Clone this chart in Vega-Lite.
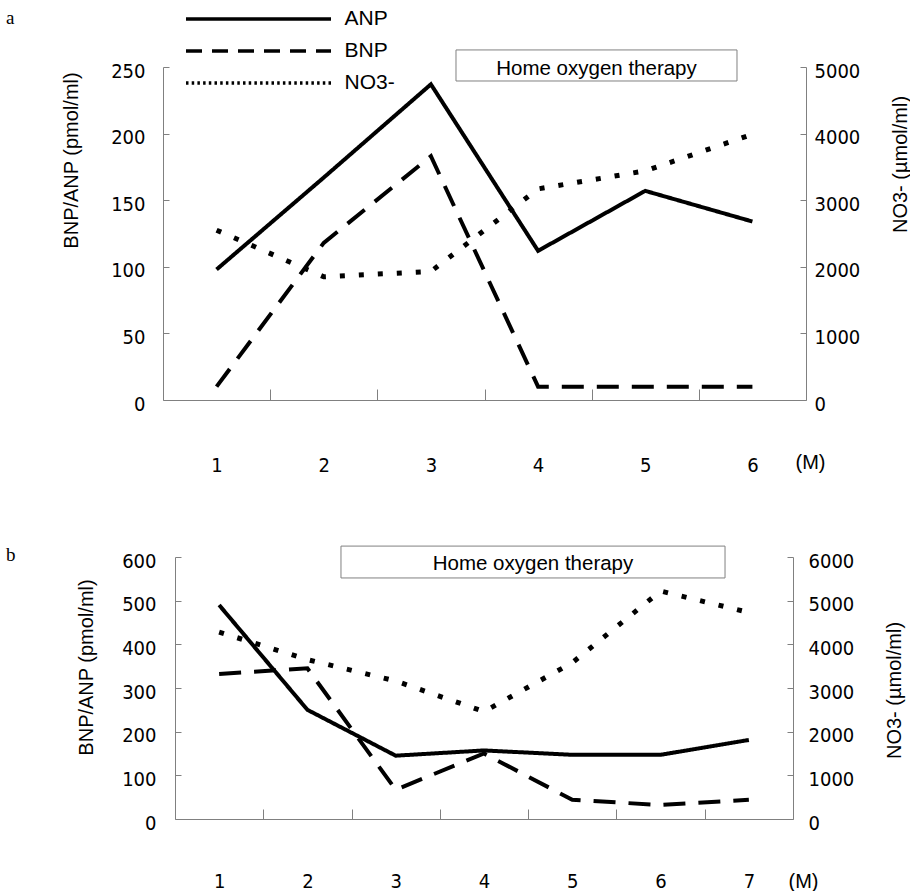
{
  "$schema": "https://vega.github.io/schema/vega-lite/v6.json",
  "background": "white",
  "padding": {"left": 6, "top": 7, "right": 0, "bottom": 0},
  "datasets": {
    "a": [
      {"month": 1, "series": "ANP", "value": 98},
      {"month": 2, "series": "ANP", "value": 167},
      {"month": 3, "series": "ANP", "value": 237},
      {"month": 4, "series": "ANP", "value": 112},
      {"month": 5, "series": "ANP", "value": 157},
      {"month": 6, "series": "ANP", "value": 134},
      {"month": 1, "series": "BNP", "value": 10},
      {"month": 2, "series": "BNP", "value": 118},
      {"month": 3, "series": "BNP", "value": 183},
      {"month": 4, "series": "BNP", "value": 10},
      {"month": 5, "series": "BNP", "value": 10},
      {"month": 6, "series": "BNP", "value": 10},
      {"month": 1, "series": "NO3-", "value": 2550},
      {"month": 2, "series": "NO3-", "value": 1850},
      {"month": 3, "series": "NO3-", "value": 1930},
      {"month": 4, "series": "NO3-", "value": 3170},
      {"month": 5, "series": "NO3-", "value": 3440},
      {"month": 6, "series": "NO3-", "value": 3990}
    ],
    "b": [
      {"month": 1, "series": "ANP", "value": 490},
      {"month": 2, "series": "ANP", "value": 250},
      {"month": 3, "series": "ANP", "value": 145},
      {"month": 4, "series": "ANP", "value": 157},
      {"month": 5, "series": "ANP", "value": 147},
      {"month": 6, "series": "ANP", "value": 147},
      {"month": 7, "series": "ANP", "value": 181},
      {"month": 1, "series": "BNP", "value": 332},
      {"month": 2, "series": "BNP", "value": 345},
      {"month": 3, "series": "BNP", "value": 67},
      {"month": 4, "series": "BNP", "value": 150},
      {"month": 5, "series": "BNP", "value": 44},
      {"month": 6, "series": "BNP", "value": 32},
      {"month": 7, "series": "BNP", "value": 44},
      {"month": 1, "series": "NO3-", "value": 4280},
      {"month": 2, "series": "NO3-", "value": 3650},
      {"month": 3, "series": "NO3-", "value": 3160},
      {"month": 4, "series": "NO3-", "value": 2460},
      {"month": 5, "series": "NO3-", "value": 3580},
      {"month": 6, "series": "NO3-", "value": 5220},
      {"month": 7, "series": "NO3-", "value": 4730}
    ],
    "notes": [{"label": "Home oxygen therapy"}]
  },
  "concat": [
    {
      "width": 643,
      "height": 333,
      "title": {"text": "a", "anchor": "start", "frame": "group", "dx": -157, "dy": 36, "offset": 0, "font": "Liberation Serif", "fontSize": 19, "fontWeight": "normal", "baseline": "alphabetic", "color": "black"},
      "resolve": {"scale": {"y": "independent", "strokeDash": "independent"}, "axis": {"x": "independent"}},
      "layer": [
        {
          "data": {"name": "a"},
          "transform": [{"filter": "datum.series !== 'NO3-'"}],
          "mark": {"type": "line", "color": "black", "strokeWidth": 4},
          "encoding": {
            "x": {"field": "month", "type": "quantitative", "scale": {"domain": [0.5, 6.5], "nice": false, "zero": false},
              "axis": {"orient": "bottom", "values": [1, 2, 3, 4, 5, 6], "format": "d", "ticks": false, "domainColor": "#808080", "labelPadding": 55, "labelFont": "DejaVu Sans Condensed", "labelFontSize": 20, "labelColor": "black", "labelFlush": false, "labelOverlap": false, "grid": false,
                "title": "(M)", "titleX": 647, "titleY": 62, "titleAlign": "center", "titleBaseline": "middle", "titleFont": "Liberation Sans", "titleFontSize": 20, "titleFontWeight": "normal", "titleColor": "black"}},
            "y": {"field": "value", "type": "quantitative", "scale": {"domain": [0, 250], "nice": false},
              "axis": {"orient": "left", "values": [0, 50, 100, 150, 200, 250], "ticks": false, "labelPadding": 18, "domainColor": "#808080", "labelFont": "DejaVu Sans Condensed", "labelFontSize": 20, "labelColor": "black", "labelOffset": 4, "labelBaseline": "middle", "grid": false,
                "title": "BNP/ANP (pmol/ml)", "titleX": -92, "titleY": 93, "titleAngle": 270, "titleAlign": "center", "titleBaseline": "middle", "titleFont": "Liberation Sans", "titleFontSize": 20, "titleFontWeight": "normal", "titleColor": "black"}},
            "strokeDash": {"field": "series", "type": "nominal", "scale": {"domain": ["ANP", "BNP", "NO3-"], "range": [[1, 0], [22, 13], [5, 14]]}, "legend": null}
          }
        },
        {
          "data": {"name": "a"},
          "transform": [{"filter": "datum.series === 'NO3-'"}],
          "mark": {"type": "line", "color": "black", "strokeWidth": 5},
          "encoding": {
            "x": {"field": "month", "type": "quantitative", "scale": {"domain": [0.5, 6.5], "nice": false, "zero": false},
              "axis": {"orient": "bottom", "offset": -11, "values": [1.5, 2.5, 3.5, 4.5, 5.5], "tickSize": 11, "tickColor": "#808080", "domain": false, "labels": false, "title": null, "grid": false}},
            "y": {"field": "value", "type": "quantitative", "scale": {"domain": [0, 5000], "nice": false},
              "axis": {"orient": "right", "values": [0, 1000, 2000, 3000, 4000, 5000], "format": "d", "ticks": false, "labelPadding": 8, "domainColor": "#808080", "labelFont": "DejaVu Sans Condensed", "labelFontSize": 20, "labelColor": "black", "labelOffset": 4, "labelBaseline": "middle", "grid": false,
                "title": "NO3- (µmol/ml)", "titleX": 94, "titleY": 97, "titleAngle": 270, "titleAlign": "center", "titleBaseline": "middle", "titleFont": "Liberation Sans", "titleFontSize": 20, "titleFontWeight": "normal", "titleColor": "black"}},
            "strokeDash": {"field": "series", "type": "nominal", "scale": {"domain": ["ANP", "BNP", "NO3-"], "range": [[1, 0], [22, 13], [5, 14]]}, "legend": null}
          }
        },
        {
          "data": {"name": "a"},
          "mark": {"type": "line", "color": "black", "strokeWidth": 3.5, "opacity": 0},
          "encoding": {
            "x": {"field": "month", "type": "quantitative", "scale": {"domain": [0.5, 6.5], "nice": false, "zero": false}, "axis": null},
            "y": {"field": "value", "type": "quantitative", "scale": {"domain": [0, 5000], "nice": false},
              "axis": {"orient": "right", "offset": -6, "values": [0, 1000, 2000, 3000, 4000, 5000], "tickSize": 6, "tickColor": "#808080", "domain": false, "labels": false, "title": null, "grid": false}},
            "strokeDash": {"field": "series", "type": "nominal", "scale": {"domain": ["ANP", "BNP", "NO3-"], "range": [[1, 0], [16, 10], [2.5, 3.2]]},
              "legend": {"orient": "none", "legendX": 83.5, "legendY": -60, "title": null, "symbolType": "M-7.25,0H7.25", "symbolSize": 400, "symbolStrokeColor": "black", "symbolFillColor": "transparent", "symbolOpacity": 1, "symbolStrokeWidth": 3.5, "labelFont": "Liberation Sans", "labelFontSize": 21, "labelColor": "black", "labelOffset": 74, "rowPadding": 10, "padding": 0, "offset": 0}}
          }
        },
        {
          "data": {"name": "notes"},
          "mark": {"type": "rect", "fill": "white", "stroke": "#808080", "strokeWidth": 1},
          "encoding": {
            "x": {"datum": 3.234, "type": "quantitative", "scale": {"domain": [0.5, 6.5], "nice": false, "zero": false}, "axis": null},
            "x2": {"datum": 5.856},
            "y": {"datum": 262.8, "type": "quantitative", "scale": {"domain": [0, 250], "nice": false},
              "axis": {"orient": "left", "offset": -6, "values": [0, 50, 100, 150, 200, 250], "tickSize": 6, "tickColor": "#808080", "domain": false, "labels": false, "title": null, "grid": false}},
            "y2": {"datum": 239.5}
          }
        },
        {
          "data": {"name": "notes"},
          "mark": {"type": "text", "font": "Liberation Sans", "fontSize": 20.5, "baseline": "alphabetic", "align": "center", "color": "black"},
          "encoding": {
            "text": {"field": "label"},
            "x": {"datum": 4.545, "type": "quantitative", "scale": {"domain": [0.5, 6.5], "nice": false, "zero": false}, "axis": null},
            "y": {"datum": 244, "type": "quantitative", "scale": {"domain": [0, 250], "nice": false}, "axis": null}
          }
        }
      ]
    },
    {
      "width": 630,
      "height": 262,
      "title": {"text": "b", "anchor": "start", "frame": "group", "dx": -157, "dy": 34, "offset": 0, "font": "Liberation Serif", "fontSize": 19, "fontWeight": "normal", "baseline": "alphabetic", "color": "black"},
      "resolve": {"scale": {"y": "independent"}, "axis": {"x": "independent"}},
      "layer": [
        {
          "data": {"name": "b"},
          "transform": [{"filter": "datum.series !== 'NO3-'"}],
          "mark": {"type": "line", "color": "black", "strokeWidth": 4},
          "encoding": {
            "x": {"field": "month", "type": "quantitative", "scale": {"domain": [0.5, 7.5], "range": [12, 630], "nice": false, "zero": false},
              "axis": {"orient": "bottom", "values": [1, 2, 3, 4, 5, 6, 7], "format": "d", "ticks": false, "domainColor": "#808080", "labelPadding": 52, "labelFont": "DejaVu Sans Condensed", "labelFontSize": 20, "labelColor": "black", "labelFlush": false, "labelOverlap": false, "grid": false,
                "title": "(M)", "titleX": 640, "titleY": 62, "titleAlign": "center", "titleBaseline": "middle", "titleFont": "Liberation Sans", "titleFontSize": 20, "titleFontWeight": "normal", "titleColor": "black"}},
            "y": {"field": "value", "type": "quantitative", "scale": {"domain": [0, 600], "nice": false},
              "axis": {"orient": "left", "offset": -12, "values": [0, 100, 200, 300, 400, 500, 600], "ticks": false, "labelPadding": 19, "domainColor": "#808080", "labelFont": "DejaVu Sans Condensed", "labelFontSize": 20, "labelColor": "black", "labelOffset": 4, "labelBaseline": "middle", "grid": false,
                "title": "BNP/ANP (pmol/ml)", "titleX": -89, "titleY": 110, "titleAngle": 270, "titleAlign": "center", "titleBaseline": "middle", "titleFont": "Liberation Sans", "titleFontSize": 20, "titleFontWeight": "normal", "titleColor": "black"}},
            "strokeDash": {"field": "series", "type": "nominal", "scale": {"domain": ["ANP", "BNP", "NO3-"], "range": [[1, 0], [22, 13], [5, 14]]}, "legend": null}
          }
        },
        {
          "data": {"name": "b"},
          "transform": [{"filter": "datum.series === 'NO3-'"}],
          "mark": {"type": "line", "color": "black", "strokeWidth": 5},
          "encoding": {
            "x": {"field": "month", "type": "quantitative", "scale": {"domain": [0.5, 7.5], "range": [12, 630], "nice": false, "zero": false},
              "axis": {"orient": "bottom", "offset": -10, "values": [1.5, 2.5, 3.5, 4.5, 5.5, 6.5], "tickSize": 10, "tickColor": "#808080", "domain": false, "labels": false, "title": null, "grid": false}},
            "y": {"field": "value", "type": "quantitative", "scale": {"domain": [0, 6000], "nice": false},
              "axis": {"orient": "right", "values": [0, 1000, 2000, 3000, 4000, 5000, 6000], "format": "d", "ticks": false, "labelPadding": 15, "domainColor": "#808080", "labelFont": "DejaVu Sans Condensed", "labelFontSize": 20, "labelColor": "black", "labelOffset": 4, "labelBaseline": "middle", "grid": false,
                "title": "NO3- (µmol/ml)", "titleX": 101, "titleY": 133, "titleAngle": 270, "titleAlign": "center", "titleBaseline": "middle", "titleFont": "Liberation Sans", "titleFontSize": 20, "titleFontWeight": "normal", "titleColor": "black"}},
            "strokeDash": {"field": "series", "type": "nominal", "scale": {"domain": ["ANP", "BNP", "NO3-"], "range": [[1, 0], [22, 13], [5, 14]]}, "legend": null}
          }
        },
        {
          "data": {"name": "notes"},
          "mark": {"type": "rect", "fill": "white", "stroke": "#808080", "strokeWidth": 1},
          "encoding": {
            "x": {"datum": 2.38, "type": "quantitative", "scale": {"domain": [0.5, 7.5], "range": [12, 630], "nice": false, "zero": false}, "axis": null},
            "x2": {"datum": 6.73},
            "y": {"datum": 625, "type": "quantitative", "scale": {"domain": [0, 600], "nice": false},
              "axis": {"orient": "left", "offset": -18, "values": [0, 100, 200, 300, 400, 500, 600], "tickSize": 6, "tickColor": "#808080", "domain": false, "labels": false, "title": null, "grid": false}},
            "y2": {"datum": 552}
          }
        },
        {
          "data": {"name": "notes"},
          "mark": {"type": "text", "font": "Liberation Sans", "fontSize": 20.5, "baseline": "alphabetic", "align": "center", "color": "black"},
          "encoding": {
            "text": {"field": "label"},
            "x": {"datum": 4.555, "type": "quantitative", "scale": {"domain": [0.5, 7.5], "range": [12, 630], "nice": false, "zero": false}, "axis": null},
            "y": {"datum": 570, "type": "quantitative", "scale": {"domain": [0, 600], "nice": false},
              "axis": {"orient": "right", "offset": -6, "values": [0, 100, 200, 300, 400, 500, 600], "tickSize": 6, "tickColor": "#808080", "domain": false, "labels": false, "title": null, "grid": false}}
          }
        }
      ]
    }
  ],
  "columns": 1,
  "spacing": 70,
  "resolve": {"scale": {"strokeDash": "independent"}, "legend": {"strokeDash": "independent"}},
  "config": {"view": {"stroke": null}, "axis": {"grid": false}}
}
